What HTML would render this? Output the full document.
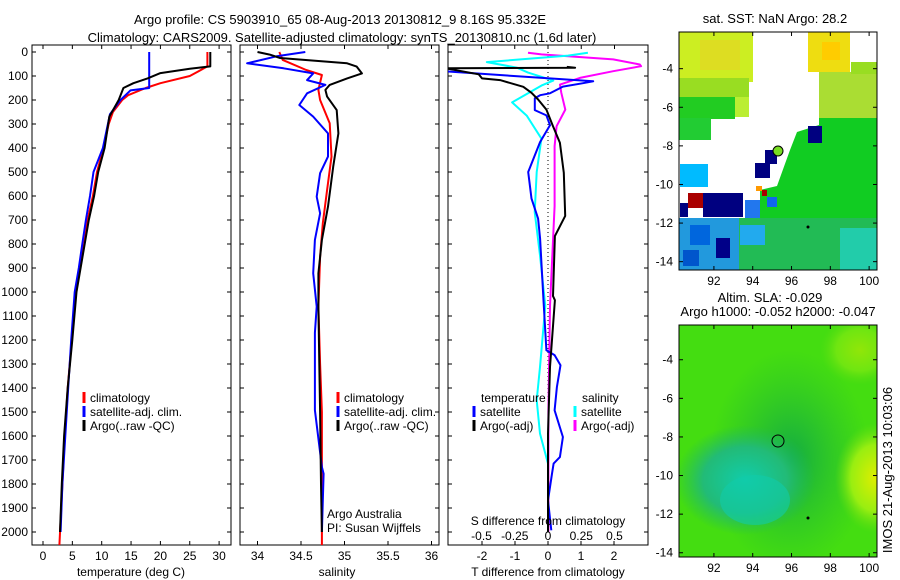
<!DOCTYPE html>
<html><head><meta charset="utf-8"><style>
body{margin:0;background:#fff}
svg{display:block;font-family:"Liberation Sans",sans-serif}
</style></head><body>
<svg id="fig" width="900" height="580" xmlns="http://www.w3.org/2000/svg">
<defs>
<clipPath id="c1"><rect x="32" y="45" width="199" height="500"/></clipPath>
<clipPath id="c2"><rect x="240" y="45" width="199" height="500"/></clipPath>
<clipPath id="c3"><rect x="448" y="45" width="200" height="500"/></clipPath>
<clipPath id="m2"><rect x="679" y="325" width="198" height="232"/></clipPath>
<radialGradient id="tealBlob" cx="0.5" cy="0.5" r="0.5"><stop offset="0" stop-color="#11ccaa"/><stop offset="0.6" stop-color="#22bb77"/><stop offset="1" stop-color="#22bb55" stop-opacity="0"/></radialGradient>
<radialGradient id="yelBlob" cx="0.5" cy="0.5" r="0.5"><stop offset="0" stop-color="#ddee00"/><stop offset="0.6" stop-color="#99ee11"/><stop offset="1" stop-color="#66dd11" stop-opacity="0"/></radialGradient>
<radialGradient id="dkBlob" cx="0.5" cy="0.5" r="0.5"><stop offset="0" stop-color="#11aa44"/><stop offset="1" stop-color="#22bb33" stop-opacity="0"/></radialGradient>
</defs>
<g font-size="13" text-anchor="middle" fill="#000">
<text x="340" y="24">Argo profile: CS 5903910_65 08-Aug-2013 20130812_9 8.16S 95.332E</text>
<text x="342" y="42">Climatology: CARS2009. Satellite-adjusted climatology: synTS_20130810.nc (1.6d later)</text>
<text x="775" y="23">sat. SST: NaN Argo: 28.2</text>
<text x="770" y="302">Altim. SLA: -0.029</text>
<text x="778" y="316">Argo h1000: -0.052 h2000: -0.047</text>
</g>
<g id="maps"></g>
<g id="panels"></g>
<text transform="translate(892,470) rotate(-90)" font-size="13" text-anchor="middle">IMOS 21-Aug-2013 10:03:06</text>
</svg>
<script>
// ---- data: depth (m) and values ----
const tRedD=[0,60,80,100,130,150,180,200,250,300,400,500,600,700,800,900,1000,1200,1400,1600,1800,2054];
const tRedV=[28,28,26.5,25,20,17.5,14.5,13.5,11.9,11.2,10.3,9.2,8.5,7.6,7,6.3,5.6,4.9,4.2,3.7,3.3,2.8];
const tBlkD=[0,60,70,88,110,130,150,200,270,400,500,600,700,800,900,1000,1200,1400,1600,1800,2000];
const tBlkV=[28.5,28.5,25,20,17.8,15.4,13.7,12.9,11.3,10.5,9.4,8.7,7.8,7.1,6.4,5.7,5,4.2,3.6,3.2,2.9];
const tBluD=[0,150,160,200,260,400,500,600,700,800,900,1000,1200,1400,1600,1800,2000];
const tBluV=[18.1,18.1,14.9,13.2,11.4,10.2,8.6,8,7.3,6.7,6.1,5.4,4.8,4.3,3.8,3.3,3.0];

const sRedD=[0,33,75,96,158,200,297,436,575,714,853,1061,1300,1500,1800,2054];
const sRedV=[34.25,34.29,34.56,34.74,34.70,34.72,34.83,34.85,34.80,34.75,34.72,34.70,34.72,34.74,34.74,34.74];
const sBlkD=[0,11,25,47,61,89,110,137,158,186,242,339,478,644,783,922,1061,1300,1500,1800,2000];
const sBlkV=[34.0,34.14,34.26,35.03,35.14,35.2,35.03,34.83,34.78,34.8,34.91,34.93,34.87,34.81,34.74,34.70,34.70,34.71,34.72,34.73,34.74];
const sBluD=[0,18,47,68,89,117,137,172,221,269,339,436,505,603,672,783,922,1061,1170,1492,1729,1757,2000];
const sBluV=[34.55,34.22,33.88,34.30,34.64,34.57,34.78,34.57,34.48,34.64,34.81,34.81,34.72,34.68,34.72,34.66,34.64,34.68,34.66,34.66,34.74,34.76,34.74];

const dTBlkD=[62,66,68,93,110,117,145,170,198,240,309,378,503,683,767,1017,1034,1313,1590,2000];
const dTBlkV=[0.57,0.82,-3.1,-2.1,-2.0,-1.45,-0.75,-0.5,-0.3,-0.05,0.15,0.36,0.48,0.52,0.21,0.15,0.21,0.06,0,0];
const dTBluD=[81,122,130,144,172,180,193,242,264,305,375,500,611,694,778,1028,1243,1263,1305,1396,1493,1604,1688,1715,1757,1868,1993];
const dTBluV=[-3.1,1.37,1.06,0.45,0.06,-0.24,-0.4,-0.4,-0.05,0.06,-0.24,-0.6,-0.5,-0.3,-0.24,-0.14,-0.05,0.2,0.38,0.27,0.2,0.45,0.36,0.17,0.12,0,0.1];
const dSMagD=[3,10,31,52,59,80,108,136,170,240,309,392,642,1058,1500,2000];
const dSMagV=[-0.15,-0.05,0.49,0.69,0.7,0.49,0.24,0.09,0.1,0.13,0.065,0.05,0.05,0.015,0.003,0.003];
const dScyaD=[3,15,42,65,86,119,140,210,265,361,500,667,847,1058,1313,1451,1590,1715,2000];
const dScyaV=[0.3,0.15,-0.46,-0.235,-0.15,0.04,-0.05,-0.27,-0.16,-0.05,-0.085,-0.1,-0.06,-0.02,-0.06,-0.085,-0.06,0,0];

const depthTicks=[0,100,200,300,400,500,600,700,800,900,1000,1100,1200,1300,1400,1500,1600,1700,1800,1900,2000];
const tTicks=[0,5,10,15,20,25,30];
const sTicks=[34,34.5,35,35.5,36];
const sTickLabels=["34","34.5","35","35.5","36"];
const dTTicks=[-2,-1,0,1,2];
const dSTicks=[-0.5,-0.25,0,0.25,0.5];
const dSTickLabels=["-0.5","-0.25","0","0.25","0.5"];
const lonTicks=[92,94,96,98,100];
const latTicks=[-4,-6,-8,-10,-12,-14];

// ---- scales ----
const yD=d=>52+0.24*d;
const xT=v=>43+5.87*v;
const xS=v=>257.5+87*(v-34);
const xdT=v=>548+33*v;
const xdS=v=>548+133*v;
const NS="http://www.w3.org/2000/svg";
const panels=document.getElementById('panels');
function mk(tag,attrs,parent){const e=document.createElementNS(NS,tag);for(const k in attrs)e.setAttribute(k,attrs[k]);parent.appendChild(e);return e;}
function txt(x,y,s,anchor,parent,size){const t=mk('text',{x:x,y:y,'text-anchor':anchor||'middle','font-size':size||12},parent);t.textContent=s;return t;}

function frame(x0,x1,y0,y1,name){
  const r=mk('rect',{x:x0,y:y0,width:x1-x0,height:y1-y0,fill:'none',stroke:'#000','stroke-width':1},panels);
  
  
}
function series(ds,vs,xf,color,clip,name,w){
  const pts=ds.map((d,i)=>xf(vs[i]).toFixed(1)+','+yD(d).toFixed(1)).join(' ');
  const p=mk('polyline',{points:pts,fill:'none',stroke:color,'stroke-width':w||2,'clip-path':'url(#'+clip+')','stroke-linejoin':'round'},panels);
  
  
}
function yTicks(x0,x1){
  depthTicks.forEach(d=>{const y=yD(d);mk('line',{x1:x0,y1:y,x2:x0+4,y2:y,stroke:'#000'},panels);mk('line',{x1:x1,y1:y,x2:x1-4,y2:y,stroke:'#000'},panels);});
}
function xTicks(vals,xf,y0,y1,labels){
  vals.forEach((v,i)=>{const x=xf(v);mk('line',{x1:x,y1:y1,x2:x,y2:y1-4,stroke:'#000'},panels);mk('line',{x1:x,y1:y0,x2:x,y2:y0+4,stroke:'#000'},panels);
    if(labels){const t=txt(x,y1+15,labels[i],'middle',panels,12);}});
}
// panel 1 temperature
frame(32,231,45,545,'temperature-panel');
yTicks(32,231);
xTicks(tTicks,xT,45,545,tTicks.map(String));
depthTicks.forEach(d=>{const t=txt(28,yD(d)+4,String(d),'end',panels,12);});
series(tRedD,tRedV,xT,'#ff0000','c1','temp-climatology-line');
series(tBluD,tBluV,xT,'#0000ff','c1','temp-satellite-line');
series(tBlkD,tBlkV,xT,'#000000','c1','temp-argo-line');
{const t=txt(131,576,'temperature (deg C)','middle',panels,12);}
// panel 2 salinity
frame(240,439,45,545,'salinity-panel');
yTicks(240,439);
xTicks(sTicks,xS,45,545,sTickLabels);
series(sRedD,sRedV,xS,'#ff0000','c2','sal-climatology-line');
series(sBluD,sBluV,xS,'#0000ff','c2','sal-satellite-line');
series(sBlkD,sBlkV,xS,'#000000','c2','sal-argo-line');
{const t=txt(337,576,'salinity','middle',panels,12);}
{const t=txt(327,518,'Argo Australia','start',panels,12);
 const t2=txt(327,532,'PI: Susan Wijffels','start',panels,12);}
// panel 3 differences
frame(448,648,45,545,'difference-panel');
yTicks(448,648);
dTTicks.forEach(v=>{const x=xdT(v);mk('line',{x1:x,y1:545,x2:x,y2:541,stroke:'#000'},panels);const t=txt(x,560,String(v),'middle',panels,12);});
dSTicks.forEach((v,i)=>{const x=xdS(v);mk('line',{x1:x,y1:45,x2:x,y2:49,stroke:'#000'},panels);const t=txt(x,540,dSTickLabels[i],'middle',panels,12);});
mk('line',{x1:548,y1:52,x2:548,y2:532,stroke:'#000','stroke-dasharray':'1,3'},panels);
series(dSMagD,dSMagV,xdS,'#ff00ff','c3','sal-diff-argo-line');
series(dScyaD,dScyaV,xdS,'#00ffff','c3','sal-diff-satellite-line');
series(dTBluD,dTBluV,xdT,'#0000ff','c3','temp-diff-satellite-line');
series(dTBlkD,dTBlkV,xdT,'#000000','c3','temp-diff-argo-line');
{const t=txt(548,525,'S difference from climatology','middle',panels,12);
 const t2=txt(548,576,'T difference from climatology','middle',panels,12);}

// legends
function legend(x,y,color,label,name){
  const m=mk('line',{x1:x,y1:y-10,x2:x,y2:y+1,stroke:color,'stroke-width':3},panels);
  const t=txt(x+6,y,label,'start',panels,12);
  
  
}
legend(84,402,'#ff0000','climatology','legend-temp-climatology');
legend(84,416,'#0000ff','satellite-adj. clim.','legend-temp-satellite');
legend(84,430,'#000000','Argo(..raw -QC)','legend-temp-argo');
legend(338,402,'#ff0000','climatology','legend-sal-climatology');
legend(338,416,'#0000ff','satellite-adj. clim.','legend-sal-satellite');
legend(338,430,'#000000','Argo(..raw -QC)','legend-sal-argo');
{const a=txt(481,402,'temperature','start',panels,12);
 const b=txt(582,402,'salinity','start',panels,12);}
legend(474,416,'#0000ff','satellite','legend-tdiff-satellite');
legend(474,430,'#000000','Argo(-adj)','legend-tdiff-argo');
legend(575,416,'#00ffff','satellite','legend-sdiff-satellite');
legend(575,430,'#ff00ff','Argo(-adj)','legend-sdiff-argo');

// ---- maps ----
const maps=document.getElementById('maps');
function r(x,y,w,h,c,parent){return mk('rect',{x:x,y:y,width:w,height:h,fill:c},parent);}
function mapAxes(y0,y1,lat0,name){
  const lonX=v=>679+(v-90.2)*19.4;
  const latY=v=>y0+(lat0-v)*19.3;
  const f=mk('rect',{x:679,y:y0,width:198,height:y1-y0,fill:'none',stroke:'#000'},maps);
  
  
  lonTicks.forEach(v=>{const x=lonX(v);mk('line',{x1:x,y1:y1,x2:x,y2:y1-4,stroke:'#000'},maps);mk('line',{x1:x,y1:y0,x2:x,y2:y0+4,stroke:'#000'},maps);const t=txt(x,y1+15,String(v),'middle',maps,12);});
  latTicks.forEach(v=>{const y=latY(v);if(y>y1)return;mk('line',{x1:679,y1:y,x2:683,y2:y,stroke:'#000'},maps);mk('line',{x1:877,y1:y,x2:873,y2:y,stroke:'#000'},maps);const t=txt(673,y+4,String(v),'end',maps,12);});
}
// SST map
const g1=mk('g',{},maps);


r(679,32,198,238,'#ffffff',g1);
r(679,32,74,50,'#ccee22',g1);r(700,40,40,30,'#dddd22',g1);
r(679,78,70,22,'#99dd22',g1);r(679,97,56,22,'#22cc22',g1);r(679,118,32,22,'#22cc33',g1);r(735,97,14,20,'#bbee33',g1);
r(808,32,42,40,'#eedd11',g1);r(822,42,18,18,'#ffcc00',g1);
r(819,72,58,46,'#aadd33',g1);r(851,62,26,12,'#99dd22',g1);
mk('polygon',{points:'819,118 877,118 877,225 760,225 760,190 777,186 790,150 797,132 819,125',fill:'#11cc22'},g1);
r(679,218,198,52,'#22bb55',g1);r(840,228,37,42,'#22ccaa',g1);
r(679,218,60,52,'#2299dd',g1);r(690,225,20,20,'#0066dd',g1);r(716,238,14,20,'#000088',g1);r(740,225,25,20,'#22aaee',g1);r(683,250,16,16,'#0055cc',g1);
r(808,126,14,17,'#000080',g1);r(765,150,12,14,'#000080',g1);r(755,163,15,15,'#000080',g1);
r(680,164,28,23,'#00bbff',g1);
r(703,193,40,24,'#000080',g1);r(680,203,8,14,'#000080',g1);r(688,193,15,15,'#aa0000',g1);
r(756,186,6,5,'#ff9900',g1);r(762,190,5,6,'#aa0000',g1);r(767,197,10,10,'#1166ee',g1);r(745,200,15,18,'#2277ee',g1);
mk('circle',{cx:778,cy:151,r:5,fill:'#77dd22',stroke:'#000'},g1);
mk('circle',{cx:808,cy:227,r:1.5,fill:'#000'},g1);
mapAxes(32,270,-2.1,'sst-map');
// SLA map
const g2=mk('g',{'clip-path':'url(#m2)'},maps);


r(679,325,198,232,'#44dd11',g2);
mk('ellipse',{cx:790,cy:460,rx:80,ry:110,fill:'url(#dkBlob)'},g2);
mk('ellipse',{cx:745,cy:480,rx:70,ry:55,fill:'url(#tealBlob)'},g2);
mk('ellipse',{cx:755,cy:500,rx:35,ry:25,fill:'#11ccaa','fill-opacity':0.6},g2);
mk('ellipse',{cx:875,cy:478,rx:40,ry:55,fill:'url(#yelBlob)'},g2);
mk('ellipse',{cx:860,cy:350,rx:40,ry:35,fill:'url(#yelBlob)','fill-opacity':0.5},g2);
mk('circle',{cx:778,cy:441,r:6,fill:'none',stroke:'#000'},g2);
mk('circle',{cx:808,cy:518,r:1.5,fill:'#000'},g2);
mapAxes(325,557,-2.2,'sla-map');
</script>
</body></html>
